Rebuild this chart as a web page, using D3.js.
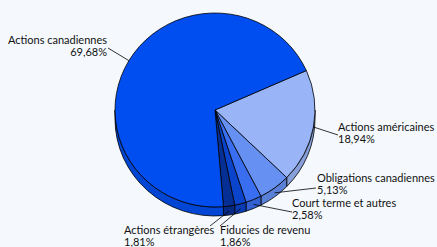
<!DOCTYPE html>
<html><head><meta charset="utf-8">
<script src="https://cdn.jsdelivr.net/npm/d3@7"></script>
<style>html,body{margin:0;padding:0;background:#f5f9fd;}svg{display:block;}</style>
</head><body>
<svg id="c" width="437" height="247"></svg>
<script>
const categories = ["Actions américaines","Obligations canadiennes","Court terme et autres","Fiducies de revenu","Actions étrangères","Actions canadiennes"];
const values = [18.94, 5.13, 2.58, 1.86, 1.81, 69.68];
const percentLabels = ["18,94%","5,13%","2,58%","1,86%","1,81%","69,68%"];
const colors = ["#99b5f7","#6690f2","#3a6ef0","#0a44cc","#062f95","#004ef0"];
// label layout: [x, baseline y, anchor, attach x, attach y]
const labelLayout = [
  [338,131,"start",338,135],
  [317,182,"start",316,188],
  [292,207,"start",292,212],
  [220,234,"start",220,226],
  [124,234,"start",210,226],
  [107,44,"end",108,48]
];

const W=437,H=247, cx=215, cy=110, rx=100, ry=97, depth=9;
const svg=d3.select("#c");
const xs=d3.scaleLinear().domain([-1,1]).range([cx-rx,cx+rx]);
const ys=d3.scaleLinear().domain([-1,1]).range([cy-ry,cy+ry]);
const P=(t,dy=0)=>[xs(Math.cos(t)), ys(Math.sin(t))+dy];

const start = 66*Math.PI/180;
const pie=d3.pie().sort(null).value(d=>d).startAngle(start).endAngle(start+2*Math.PI);
const arcs=pie(values).map((a,i)=>({i, t0:a.startAngle-Math.PI/2, t1:a.endAngle-Math.PI/2}));

// side walls
const walls=[];
arcs.forEach(a=>{
  for(const base of [0,2*Math.PI,-2*Math.PI]){
    const s=Math.max(a.t0,base), e=Math.min(a.t1,base+Math.PI);
    if(e>s) walls.push({i:a.i,s,e});
  }
});
const g=svg.append("g");
g.selectAll("path.wall").data(walls).join("path").attr("class","wall")
 .attr("d",w=>{const p0=P(w.s),p1=P(w.e),q1=P(w.e,depth),q0=P(w.s,depth);
   return `M${p0}A${rx},${ry} 0 0 1 ${p1}L${q1}A${rx},${ry} 0 0 0 ${q0}Z`;})
 .attr("fill",w=>d3.color(colors[w.i]).darker(0.35))
 .attr("stroke","#000").attr("stroke-width",0.8).attr("stroke-linejoin","round");

g.selectAll("path.top").data(arcs).join("path").attr("class","top")
 .attr("d",a=>{const p0=P(a.t0),p1=P(a.t1);const large=(a.t1-a.t0)>Math.PI?1:0;
   return `M${cx},${cy}L${p0}A${rx},${ry} 0 ${large} 1 ${p1}Z`;})
 .attr("fill",a=>colors[a.i])
 .attr("stroke","#000").attr("stroke-width",0.8).attr("stroke-linejoin","round");

// leader lines
g.selectAll("line.lead").data(arcs).join("line").attr("class","lead")
 .each(function(a){
   const m=(a.t0+a.t1)/2; const front=Math.sin(m)>0.5;
   const p=P(m, front?depth*0.55:0); const L=labelLayout[a.i];
   d3.select(this).attr("x1",p[0]).attr("y1",p[1]).attr("x2",L[3]).attr("y2",L[4]);
 })
 .attr("stroke","#000").attr("stroke-width",0.8);

const lbl=svg.append("g").attr("font-family","Lato, 'Open Sans', sans-serif").attr("font-size",11).attr("fill","#111");
arcs.forEach(a=>{
  const L=labelLayout[a.i];
  const t=lbl.append("text").attr("text-anchor",L[2]);
  t.append("tspan").attr("x",L[0]).attr("y",L[1]).text(categories[a.i]);
  t.append("tspan").attr("x",L[0]).attr("y",L[1]+12).text(percentLabels[a.i]);
});
</script>
</body></html>
